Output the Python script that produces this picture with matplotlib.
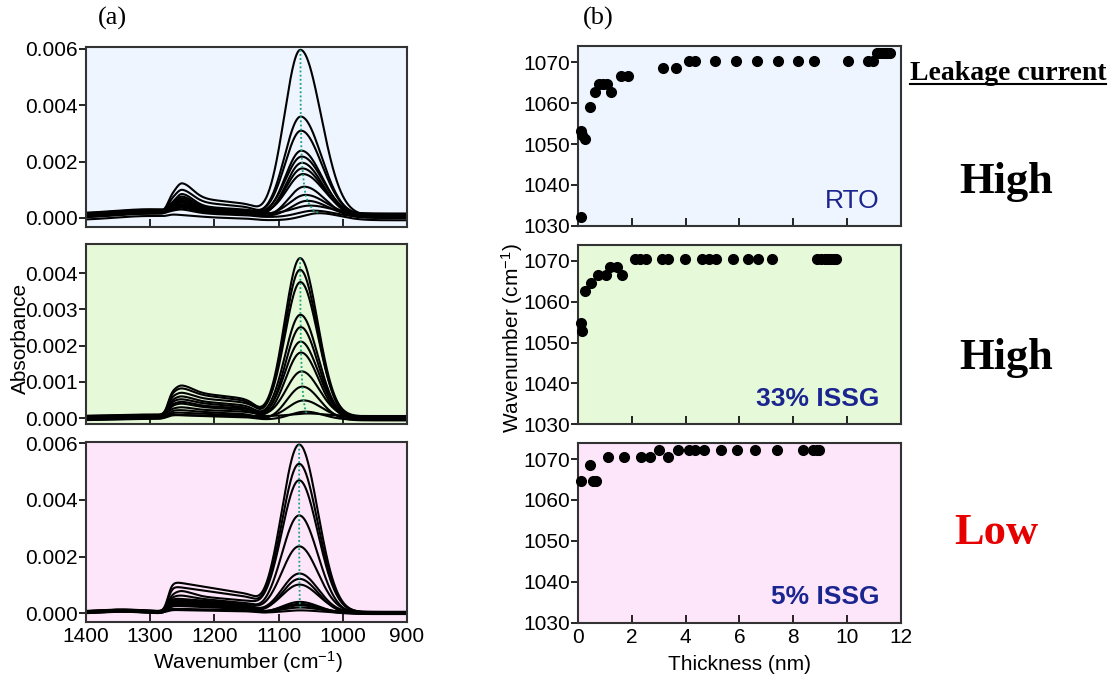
import numpy as np
import matplotlib
matplotlib.use("Agg")
import matplotlib.pyplot as plt
from matplotlib.lines import Line2D

plt.rcParams['font.family'] = ['Liberation Sans', 'DejaVu Sans']
plt.rcParams['mathtext.fontset'] = 'custom'
plt.rcParams['mathtext.rm'] = 'Liberation Sans'
plt.rcParams['mathtext.it'] = 'Liberation Sans:italic'

# ---------------- (a) FT-IR absorbance spectra ----------------
# per curve: main (TO) band height and position, LO-band height at 1250,
# plateau level at ~1180 cm-1 and baseline offset
rto_height = [0.00597, 0.00360, 0.00310, 0.00239, 0.00218, 0.00196, 0.00176,
              0.00156, 0.00111, 0.00082, 0.00061, 0.00044, 0.00026, 0.00017]
rto_pos = [1066, 1065.5, 1065, 1064.5, 1064, 1063.5, 1063,
           1062, 1060, 1058, 1055, 1051, 1045, 1037]
rto_lo = [0.00123, 0.00100, 0.00085, 0.00076, 0.00070, 0.00064, 0.00058,
          0.00054, 0.00048, 0.00044, 0.00040, 0.00036, 0.00030, 0.00008]
rto_plateau = [0.00058, 0.00046, 0.00034, 0.00030, 0.00028, 0.00026, 0.00024,
               0.00022, 0.00020, 0.00018, 0.00016, 0.00014, 0.00012, 0.00000]
rto_base = [0.00008, 0.00006, 0.00010, 0.00004, 0.00012, 0.00002, 0.00008,
            0.00014, 0.00000, 0.00010, 0.00005, 0.00016, 0.00003, -0.00008]

issg33_height = [0.00441, 0.00409, 0.00375, 0.00285, 0.00251, 0.00211,
                 0.00181, 0.00129, 0.00087, 0.00049, 0.00018, 0.00013]
issg33_pos = [1066.5, 1066.5, 1066, 1066, 1065.5, 1065.5,
              1065, 1064, 1063, 1061, 1058, 1055]
issg33_lo = [0.00090, 0.00082, 0.00070, 0.00060, 0.00052, 0.00045,
             0.00040, 0.00030, 0.00022, 0.00015, 0.00008, 0.00004]
issg33_plateau = [0.00060, 0.00055, 0.00048, 0.00040, 0.00035, 0.00030,
                  0.00026, 0.00020, 0.00014, 0.00010, 0.00004, 0.00002]
issg33_base = [0.00002, -0.00003, 0.00005, 0.00000, -0.00005, 0.00003,
               -0.00002, 0.00004, -0.00006, 0.00001, -0.00004, 0.00006]

issg5_height = [0.00595, 0.00527, 0.00469, 0.00345, 0.00236, 0.00140, 0.00121,
                0.00101, 0.00040, 0.00033, 0.00028, 0.00020, 0.00010]
issg5_pos = [1068, 1068, 1068, 1068, 1068, 1067.5, 1067.5,
             1067.5, 1067, 1067, 1066.5, 1066, 1066]
issg5_lo = [0.00106, 0.00090, 0.00078, 0.00062, 0.00050, 0.00042, 0.00036,
            0.00030, 0.00025, 0.00020, 0.00015, 0.00010, 0.00005]
issg5_plateau = [0.00080, 0.00068, 0.00050, 0.00042, 0.00038, 0.00034, 0.00030,
                 0.00028, 0.00025, 0.00022, 0.00018, 0.00012, 0.00008]
issg5_base = [0.00002, 0.00000, 0.00004, -0.00002, 0.00003, 0.00001, -0.00003,
              0.00005, 0.00000, 0.00002, -0.00002, 0.00004, 0.00001]

# ---------------- (b) TO peak position vs. thickness ----------------
rto_thk = [0.10, 0.15, 0.25, 0.10, 0.44, 0.61, 0.77, 0.93, 1.06, 1.22, 1.59,
           1.84, 3.16, 3.62, 4.12, 4.34, 5.07, 5.87, 6.66, 7.45, 8.18, 8.79,
           10.04, 10.79, 10.98, 11.10, 11.20, 11.30, 11.40, 11.50, 11.60]
rto_wn = [1053.1, 1052.2, 1051.2, 1032.2, 1059.0, 1062.8, 1064.7, 1064.7,
          1064.7, 1062.8, 1066.6, 1066.6, 1068.5, 1068.5, 1070.4, 1070.4,
          1070.4, 1070.4, 1070.4, 1070.4, 1070.4, 1070.4, 1070.4, 1070.4,
          1070.4, 1072.3, 1072.3, 1072.3, 1072.3, 1072.3, 1072.3]

issg33_thk = [0.10, 0.13, 0.26, 0.47, 0.74, 1.03, 1.19, 1.43, 1.61, 2.11,
              2.30, 2.51, 3.10, 3.35, 3.96, 4.60, 4.86, 5.12, 5.74, 6.30,
              6.70, 7.22, 8.90, 9.05, 9.20, 9.30, 9.40, 9.50, 9.60]
issg33_wn = [1054.8, 1052.9, 1062.7, 1064.6, 1066.6, 1066.6, 1068.5, 1068.5,
             1066.6, 1070.4, 1070.4, 1070.4, 1070.4, 1070.4, 1070.4, 1070.4,
             1070.4, 1070.4, 1070.4, 1070.4, 1070.4, 1070.4, 1070.4, 1070.4,
             1070.4, 1070.4, 1070.4, 1070.4, 1070.4]

issg5_thk = [0.09, 0.44, 0.56, 0.67, 1.12, 1.70, 2.33, 2.67, 2.99, 3.33,
             3.71, 4.12, 4.34, 4.68, 5.30, 5.92, 6.58, 7.38, 8.35, 8.72,
             8.87, 8.97]
issg5_wn = [1064.6, 1068.5, 1064.6, 1064.6, 1070.4, 1070.4, 1070.4, 1070.4,
            1072.3, 1070.4, 1072.3, 1072.3, 1072.3, 1072.3, 1072.3, 1072.3,
            1072.3, 1072.3, 1072.3, 1072.3, 1072.3, 1072.3]

wn = np.linspace(1400, 900, 1001)


def band(x, centre, s_hi, s_lo):
    s = np.where(x > centre, s_hi, s_lo)
    return np.exp(-0.5 * ((x - centre) / s) ** 2)


def box(x, hi_edge, lo_edge, w_hi, w_lo):
    return 1.0 / (1 + np.exp((x - hi_edge) / w_hi)) / (1 + np.exp((lo_edge - x) / w_lo))


def value_at(curve, v):
    return np.interp(v, wn[::-1], curve[::-1])


def spectrum(height, pos, lo_tot, plat_tot, base, opt):
    bg = base + opt['bump'] * band(wn, opt['bump_c'], opt['bump_w'], opt['bump_w'])
    plat_shape = box(wn, 1272, 1135, 3.5, 7) * (1 + opt['slope'] * (wn - 1180) / 65)
    plat_shape = plat_shape / value_at(plat_shape, 1180)
    P = max(plat_tot - value_at(bg, 1180), 0)
    y = bg + P * plat_shape
    L = max(lo_tot - value_at(y, 1250), 0)
    y = y + L * band(wn, 1250, 9, 16)
    A = max(height - value_at(y, pos), 0)
    y = y + A * band(wn, pos, opt['s_hi'], opt['s_lo'])
    return y


spec_sets = [
    (rto_height, rto_pos, rto_lo, rto_plateau, rto_base,
     dict(bump=0.00015, bump_c=1300, bump_w=55, slope=0.25, s_hi=25, s_lo=32),
     (-0.00032, 0.00607), [0, 0.002, 0.004, 0.006], '#eef5ff'),
    (issg33_height, issg33_pos, issg33_lo, issg33_plateau, issg33_base,
     dict(bump=0.00004, bump_c=1300, bump_w=55, slope=0.2, s_hi=24, s_lo=27),
     (-0.00016, 0.0048), [0, 0.001, 0.002, 0.003, 0.004], '#e6f9d9'),
    (issg5_height, issg5_pos, issg5_lo, issg5_plateau, issg5_base,
     dict(bump=0.00008, bump_c=1345, bump_w=40, slope=0.3, s_hi=27, s_lo=29),
     (-0.0003, 0.00605), [0, 0.002, 0.004, 0.006], '#fde6fa'),
]

peak_sets = [
    (rto_thk, rto_wn, 'RTO', dict(fontsize=19)),
    (issg33_thk, issg33_wn, '33% ISSG', dict(fontsize=19, fontweight='bold')),
    (issg5_thk, issg5_wn, '5% ISSG', dict(fontsize=19, fontweight='bold')),
]

W, H = 1119, 690
fig = plt.figure(figsize=(W / 100, H / 100), dpi=100)

left_rects = [(86, 47, 321, 180), (86, 244, 321, 180), (86, 441.7, 321, 180)]
right_rects = [(578.3, 46, 322.4, 179.7), (578.3, 244.7, 322.4, 179.3),
               (578.3, 442.7, 322.4, 180)]


def px_rect(x, y, w, h):
    return [x / W, 1 - (y + h) / H, w / W, h / H]


spine_col = '#333333'
tick_fs = 15
blue = '#1b2590'

for i, (hts, pos, lo, plat, base, opt, ylim, yt, bgc) in enumerate(spec_sets):
    ax = fig.add_axes(px_rect(*left_rects[i]))
    ax.set_facecolor(bgc)
    for h_, p_, l_, pl_, b_ in zip(hts, pos, lo, plat, base):
        ax.plot(wn, spectrum(h_, p_, l_, pl_, b_, opt), color='black', lw=1.5)
    ax.plot(pos, hts, color='#18a07a', lw=1.3, ls=(0, (1, 1.3)), zorder=5)
    ax.set_xlim(1400, 900)
    ax.set_ylim(*ylim)
    ax.set_yticks(yt)
    ax.set_yticklabels([f'{v:.3f}' for v in yt])
    ax.set_xticks([1400, 1300, 1200, 1100, 1000, 900])
    ax.tick_params(axis='x', direction='in', length=6, width=1.2, labelsize=tick_fs,
                   labelbottom=(i == 2), pad=4)
    ax.tick_params(axis='y', direction='out', length=5, width=1.2, labelsize=tick_fs, pad=1)
    for s in ax.spines.values():
        s.set_color(spine_col)
        s.set_linewidth(1.5)

for i, (thk, wnum, label, tprops) in enumerate(peak_sets):
    ax = fig.add_axes(px_rect(*right_rects[i]))
    ax.set_facecolor(spec_sets[i][-1])
    ax.plot(thk, wnum, 'o', color='black', ms=7, clip_on=False, zorder=4)
    ax.set_xlim(0, 12)
    ax.set_ylim(1030, 1074)
    ax.set_yticks([1030, 1040, 1050, 1060, 1070])
    ax.set_xticks(range(0, 13, 2))
    ax.tick_params(axis='x', direction='in', length=6, width=1.2, labelsize=tick_fs,
                   labelbottom=(i == 2), pad=4)
    ax.tick_params(axis='y', direction='out', length=5, width=1.2, labelsize=tick_fs, pad=1)
    for s in ax.spines.values():
        s.set_color(spine_col)
        s.set_linewidth(1.5)
    ax.text(0.935, 0.14, label, transform=ax.transAxes, ha='right', va='center',
            color=blue, **tprops)

serif = ['Liberation Serif', 'DejaVu Serif']
fig.text(112 / W, 1 - 18 / H, '(a)', family=serif, fontsize=19, ha='center', va='center')
fig.text(598 / W, 1 - 18 / H, '(b)', family=serif, fontsize=19, ha='center', va='center')
fig.text(20 / W, 1 - 338 / H, 'Absorbance', rotation=90, fontsize=15,
         ha='center', va='center')
fig.text(248 / W, 1 - 662 / H, r'Wavenumber (cm$^{-1}$)', fontsize=15,
         ha='center', va='center')
fig.text(512 / W, 1 - 338 / H, r'Wavenumber (cm$^{-1}$)', rotation=90, fontsize=15,
         ha='center', va='center')
fig.text(740 / W, 1 - 664 / H, 'Thickness (nm)', fontsize=15, ha='center', va='center')

lk = fig.text(1008 / W, 1 - 73 / H, 'Leakage current', family=serif, fontsize=20,
              fontweight='bold', ha='center', va='center')
fig.text(1006 / W, 1 - 182 / H, 'High', family=serif, fontsize=32, fontweight='bold',
         ha='center', va='center', color='black')
fig.text(1006 / W, 1 - 358 / H, 'High', family=serif, fontsize=32, fontweight='bold',
         ha='center', va='center', color='black')
fig.text(996 / W, 1 - 533 / H, 'Low', family=serif, fontsize=32, fontweight='bold',
         ha='center', va='center', color='#e60000')

# underline for the leakage-current heading
renderer = fig.canvas.get_renderer()
bb = lk.get_window_extent(renderer=renderer)
fb = bb.transformed(fig.transFigure.inverted())
fig.add_artist(Line2D([fb.x0, fb.x1], [fb.y0 + 0.002, fb.y0 + 0.002],
                      transform=fig.transFigure, color='black', lw=1.5))

fig.savefig('out.png', dpi=100)
